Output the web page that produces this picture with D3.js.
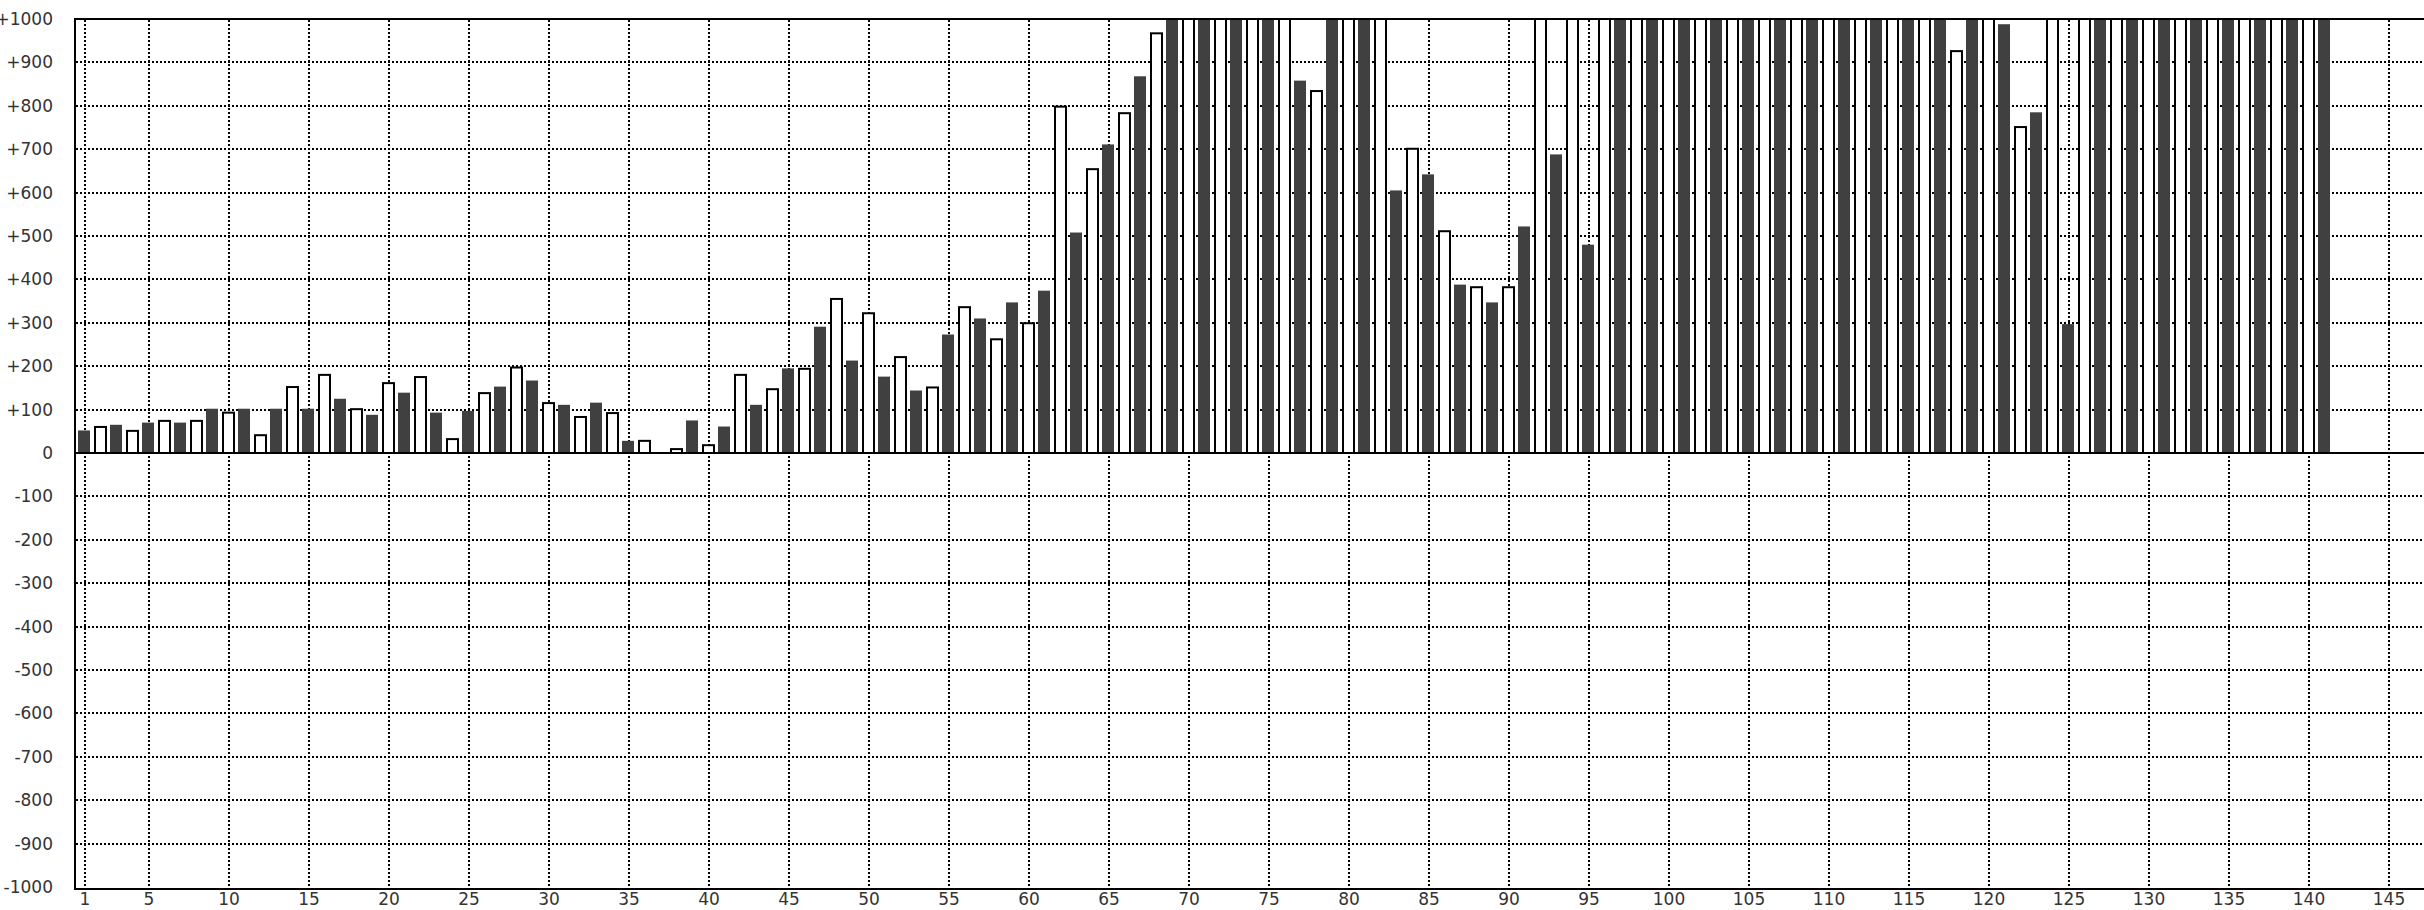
<!DOCTYPE html>
<html><head><meta charset="utf-8">
<script src="https://cdn.jsdelivr.net/npm/d3@7/dist/d3.min.js"></script>
<style>html,body{margin:0;padding:0;background:#fff;overflow:hidden}</style>
</head><body>
<svg id="chart" width="2424" height="910"></svg>
<script>
// ---- data ----
const categories = d3.range(1, 142);
const values = [
  52, 60, 65, 51, 70, 74, 70, 74, 102, 93,
  102, 41, 102, 152, 102, 180, 125, 101, 88, 161,
  139, 175, 93, 32, 97, 138, 153, 197, 167, 115,
  111, 83, 116, 92, 28, 28, 0, 9, 75, 18,
  61, 180, 111, 147, 195, 194, 291, 355, 213, 322,
  176, 221, 144, 151, 273, 336, 310, 262, 347, 299,
  374, 798, 508, 654, 711, 783, 868, 967, 1000, 1000,
  1000, 1000, 1000, 1000, 1000, 1000, 858, 834, 1000, 1000,
  1000, 1000, 605, 701, 642, 511, 388, 382, 347, 382,
  522, 1000, 688, 1000, 480, 1000, 1000, 1000, 1000, 1000,
  1000, 1000, 1000, 1000, 1000, 1000, 1000, 1000, 1000, 1000,
  1000, 1000, 1000, 1000, 1000, 1000, 1000, 926, 1000, 1000,
  988, 751, 785, 1000, 297, 1000, 1000, 1000, 1000, 1000,
  1000, 1000, 1000, 1000, 1000, 1000, 1000, 1000, 1000, 1000,
  1000
];
const xTickValues = [1, 5, 10, 15, 20, 25, 30, 35, 40, 45, 50, 55, 60, 65, 70, 75, 80, 85, 90, 95, 100, 105, 110, 115, 120, 125, 130, 135, 140, 145];
const yTickValues = d3.range(-1000, 1001, 100);
const yTickLabels = yTickValues.map(v => v > 0 ? "+" + v : String(v));

// ---- layout ----
const W = 2424, H = 910;
const plotLeft = 75, plotTop = 19, plotBottom = 889;
const svg = d3.select("#chart");
const x = d3.scaleLinear().domain([1, 145]).range([85, 2389]);
const y = d3.scaleLinear().domain([-1000, 1000]).range([887, 19]);
const font = "'DejaVu Sans', sans-serif";

svg.append("defs").append("clipPath").attr("id", "plotclip")
  .append("rect").attr("x", plotLeft + 1).attr("y", plotTop).attr("width", W - plotLeft).attr("height", plotBottom - plotTop);

// grid lines (dotted)
const grid = svg.append("g");
grid.selectAll("line.h").data(yTickValues.filter(v => v !== 0 && Math.abs(v) !== 1000)).enter()
  .append("line").attr("class", "h")
  .attr("x1", plotLeft + 1).attr("x2", W)
  .attr("y1", d => Math.round(y(d)) + 0.0).attr("y2", d => Math.round(y(d)) + 0.0)
  .attr("stroke", "#000").attr("stroke-width", 2).attr("stroke-dasharray", "2,2");
grid.selectAll("line.v").data(xTickValues).enter()
  .append("line").attr("class", "v")
  .attr("x1", d => x(d)).attr("x2", d => x(d))
  .attr("y1", plotTop + 1).attr("y2", plotBottom - 1)
  .attr("stroke", "#000").attr("stroke-width", 2).attr("stroke-dasharray", "2,2");

// bars
const bars = svg.append("g").attr("clip-path", "url(#plotclip)");
const data = categories.map((c, i) => ({ c, v: values[i] }));
bars.selectAll("rect").data(data).enter().append("rect")
  .attr("x", d => d.c % 2 === 1 ? x(d.c) - 7 : x(d.c) - 6)
  .attr("width", d => d.c % 2 === 1 ? 12 : 11)
  .attr("y", d => y(Math.max(0, d.v)))
  .attr("height", d => Math.abs(y(d.v) - y(0)))
  .attr("fill", d => d.c % 2 === 1 ? "#404040" : "#ffffff")
  .attr("stroke", d => d.c % 2 === 1 ? "none" : "#000")
  .attr("stroke-width", 2)
  .style("display", d => d.v === 0 ? "none" : null);

// zero line
svg.append("line").attr("x1", plotLeft).attr("x2", W)
  .attr("y1", y(0)).attr("y2", y(0)).attr("stroke", "#000").attr("stroke-width", 2);

// frame
svg.append("line").attr("x1", plotLeft).attr("x2", W).attr("y1", plotTop).attr("y2", plotTop)
  .attr("stroke", "#000").attr("stroke-width", 2);
svg.append("line").attr("x1", plotLeft).attr("x2", W).attr("y1", plotBottom).attr("y2", plotBottom)
  .attr("stroke", "#000").attr("stroke-width", 2);
svg.append("line").attr("x1", plotLeft).attr("x2", plotLeft).attr("y1", plotTop - 1).attr("y2", plotBottom + 1)
  .attr("stroke", "#000").attr("stroke-width", 2);

// y labels
svg.append("g").selectAll("text").data(yTickValues).enter().append("text")
  .attr("x", 53).attr("y", d => y(d) + 6)
  .attr("text-anchor", "end")
  .attr("font-family", font).attr("font-size", 17).attr("fill", "#333")
  .text((d, i) => yTickLabels[i]);

// x labels
svg.append("g").selectAll("text").data(xTickValues).enter().append("text")
  .attr("x", d => x(d)).attr("y", 905)
  .attr("text-anchor", "middle")
  .attr("font-family", font).attr("font-size", 17).attr("fill", "#333")
  .text(d => d);
</script>
</body></html>
